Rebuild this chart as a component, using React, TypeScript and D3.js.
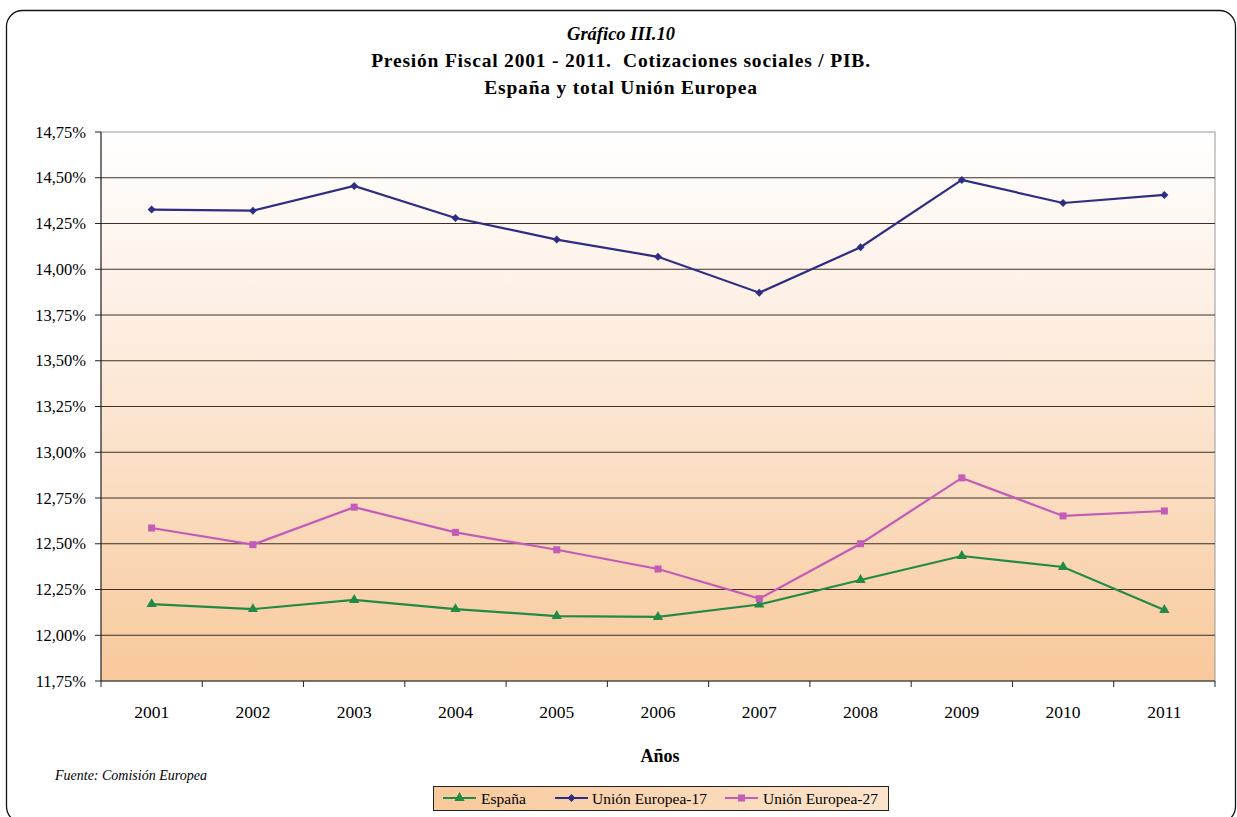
import * as d3 from "d3";

const years = ["2001", "2002", "2003", "2004", "2005", "2006", "2007", "2008", "2009", "2010", "2011"];
const espana = [12.17, 12.143, 12.193, 12.143, 12.105, 12.1, 12.168, 12.302, 12.433, 12.373, 12.138];
const ue17 = [14.326, 14.32, 14.455, 14.28, 14.162, 14.068, 13.872, 14.12, 14.488, 14.362, 14.406];
const ue27 = [12.586, 12.495, 12.7, 12.562, 12.467, 12.362, 12.2, 12.5, 12.86, 12.652, 12.679];
const yTicks = [11.75, 12, 12.25, 12.5, 12.75, 13, 13.25, 13.5, 13.75, 14, 14.25, 14.5, 14.75];

const series = [
  { name: "España", values: espana, color: "#238a45", marker: "triangle" },
  { name: "Unión Europea-17", values: ue17, color: "#2d2d84", marker: "diamond" },
  { name: "Unión Europea-27", values: ue27, color: "#c35bb8", marker: "square" },
];

const W = 1237;
const H = 817;
const plot = { left: 101, right: 1215, top: 132, bottom: 681 };
const font = "'Liberation Serif', 'Times New Roman', serif";

function Marker({ type, x, y, color }: { type: string; x: number; y: number; color: string }) {
  if (type === "triangle") {
    const p = d3.symbol(d3.symbolTriangle, 46)();
    return <path d={p as string} transform={`translate(${x},${y})`} fill={color} />;
  }
  if (type === "diamond") {
    return <path d={`M${x},${y - 4}L${x + 4},${y}L${x},${y + 4}L${x - 4},${y}Z`} fill={color} />;
  }
  return <rect x={x - 3.5} y={y - 3.5} width={7} height={7} fill={color} />;
}

export default function App() {
  const x = d3.scaleBand().domain(years).range([plot.left, plot.right]);
  const y = d3.scaleLinear().domain([11.75, 14.75]).range([plot.bottom, plot.top]);
  const fmt = (v: number) => d3.format(".2f")(v).replace(".", ",") + "%";
  const line = d3
    .line<number>()
    .x((_, i) => (x(years[i]) as number) + x.bandwidth() / 2)
    .y((d) => y(d));

  // legend line start and text start
  const legendItems = [
    { lx: 443, tx: 481 },
    { lx: 555, tx: 592 },
    { lx: 725, tx: 763 },
  ];

  return (
    <div style={{ position: "absolute", left: 0, top: 0 }}>
      <svg width={W} height={H} style={{ display: "block", fontFamily: font }}>
        <defs>
          <linearGradient id="bg" x1="0" y1="0" x2="0" y2="1">
            <stop offset="0" stopColor="#ffffff" />
            <stop offset="0.35" stopColor="#fdeee2" />
            <stop offset="1" stopColor="#f8c99b" />
          </linearGradient>
          <linearGradient id="lg" x1="0" y1="0" x2="1" y2="0">
            <stop offset="0" stopColor="#f8c99b" />
            <stop offset="1" stopColor="#fbe3cc" />
          </linearGradient>
        </defs>
        <rect x={0} y={0} width={W} height={H} fill="#fff" />
        <rect x={6.5} y={10.5} width={1229} height={812} rx={16} fill="none" stroke="#111" strokeWidth={1.3} />

        <text x={621} y={40} textAnchor="middle" fontSize={18.5} fontStyle="italic" fontWeight="bold">Gráfico III.10</text>
        <text x={621} y={67} textAnchor="middle" fontSize={19.5} fontWeight="bold" letterSpacing={0.8} style={{ whiteSpace: "pre" }}>
          Presión Fiscal 2001 - 2011.  Cotizaciones sociales / PIB.
        </text>
        <text x={621} y={94} textAnchor="middle" fontSize={19.5} fontWeight="bold" letterSpacing={0.8}>España y total Unión Europea</text>

        <rect x={plot.left} y={plot.top} width={plot.right - plot.left} height={plot.bottom - plot.top} fill="url(#bg)" stroke="#999" />

        {yTicks.map((t) => (
          <g key={t}>
            {t > 11.75 && t < 14.75 && (
              <line x1={plot.left} x2={plot.right} y1={y(t)} y2={y(t)} stroke="#3a3028" strokeWidth={1} />
            )}
            <line x1={plot.left - 6} x2={plot.left} y1={y(t)} y2={y(t)} stroke="#222" />
            <text x={86} y={y(t) + 5.5} textAnchor="end" fontSize={16.5}>{fmt(t)}</text>
          </g>
        ))}
        <line x1={plot.left} x2={plot.left} y1={plot.top} y2={plot.bottom} stroke="#222" />
        <line x1={plot.left} x2={plot.right} y1={plot.bottom} y2={plot.bottom} stroke="#222" />
        {years.concat(["end"]).map((yr, i) => {
          const px = plot.left + i * x.bandwidth();
          return <line key={yr} x1={px} x2={px} y1={plot.bottom} y2={plot.bottom + 6} stroke="#222" />;
        })}
        {years.map((yr) => (
          <text key={yr} x={(x(yr) as number) + x.bandwidth() / 2} y={718} textAnchor="middle" fontSize={17.5}>{yr}</text>
        ))}
        <text x={660} y={762} textAnchor="middle" fontSize={18} fontWeight="bold">Años</text>
        <text x={55} y={780} fontSize={14} fontStyle="italic">Fuente: Comisión Europea</text>

        {series.map((s) => (
          <g key={s.name}>
            <path d={line(s.values) as string} fill="none" stroke={s.color} strokeWidth={2.2} />
            {s.values.map((v, i) => (
              <Marker key={i} type={s.marker} x={(x(years[i]) as number) + x.bandwidth() / 2} y={y(v)} color={s.color} />
            ))}
          </g>
        ))}

        <rect x={433.5} y={786.5} width={455} height={24} fill="url(#lg)" stroke="#222" />
        {series.map((s, i) => (
          <g key={s.name}>
            <line x1={legendItems[i].lx} x2={legendItems[i].lx + 33} y1={798} y2={798} stroke={s.color} strokeWidth={2.2} />
            <Marker type={s.marker} x={legendItems[i].lx + 16.5} y={798} color={s.color} />
            <text x={legendItems[i].tx} y={803.5} fontSize={15.5}>{s.name}</text>
          </g>
        ))}
      </svg>
    </div>
  );
}
